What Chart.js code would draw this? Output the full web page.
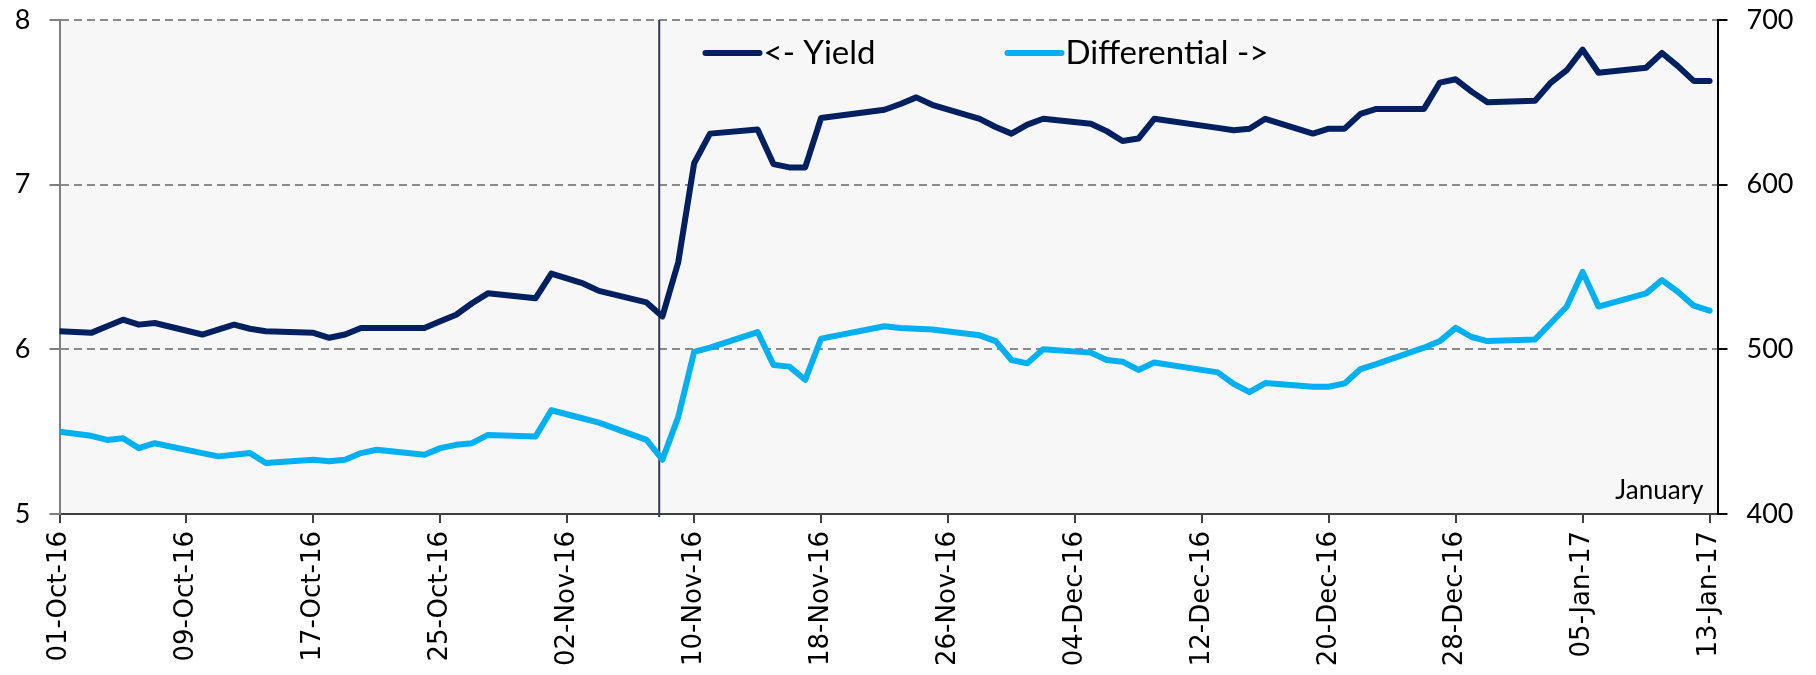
<!DOCTYPE html>
<html>
<head>
<meta charset="utf-8">
<script src="https://cdn.jsdelivr.net/npm/chart.js@4.4.1/dist/chart.umd.min.js"></script>
<style>
  html, body { margin: 0; padding: 0; background: #fff; }
  #wrap { width: 1816px; height: 675px; }
</style>
</head>
<body>
<div id="wrap"><canvas id="chart" width="1816" height="675"></canvas></div>
<script>
'use strict';

/* ── DATA ── */
var startDate = '2016-10-01';
var dates = [
  '2016-10-01','2016-10-03','2016-10-04','2016-10-05','2016-10-06','2016-10-07',
  '2016-10-10','2016-10-11','2016-10-12','2016-10-13','2016-10-14',
  '2016-10-17','2016-10-18','2016-10-19','2016-10-20','2016-10-21',
  '2016-10-24','2016-10-25','2016-10-26','2016-10-27','2016-10-28',
  '2016-10-31','2016-11-01','2016-11-03','2016-11-04',
  '2016-11-07','2016-11-08','2016-11-09','2016-11-10','2016-11-11',
  '2016-11-14','2016-11-15','2016-11-16','2016-11-17','2016-11-18',
  '2016-11-22','2016-11-23','2016-11-24','2016-11-25',
  '2016-11-28','2016-11-29','2016-11-30','2016-12-01','2016-12-02',
  '2016-12-05','2016-12-06','2016-12-07','2016-12-08','2016-12-09',
  '2016-12-13','2016-12-14','2016-12-15','2016-12-16',
  '2016-12-19','2016-12-20','2016-12-21','2016-12-22','2016-12-23',
  '2016-12-26','2016-12-27','2016-12-28','2016-12-29','2016-12-30',
  '2017-01-02','2017-01-03','2017-01-04','2017-01-05','2017-01-06',
  '2017-01-09','2017-01-10','2017-01-11','2017-01-12','2017-01-13'
];
var yieldVals = [
  6.11, 6.10, 6.14, 6.18, 6.15, 6.16,
  6.09, 6.12, 6.15, 6.125, 6.11,
  6.10, 6.07, 6.09, 6.13, 6.13,
  6.13, 6.17, 6.21, 6.28, 6.34,
  6.31, 6.46, 6.40, 6.355,
  6.285, 6.20, 6.53, 7.13, 7.31,
  7.335, 7.125, 7.105, 7.105, 7.405,
  7.455, 7.49, 7.53, 7.485,
  7.40, 7.35, 7.31, 7.365, 7.40,
  7.37, 7.325, 7.265, 7.28, 7.40,
  7.345, 7.33, 7.34, 7.40,
  7.31, 7.34, 7.34, 7.43, 7.46,
  7.46, 7.62, 7.64, 7.565, 7.50,
  7.51, 7.62, 7.695, 7.82, 7.68,
  7.71, 7.80, 7.72, 7.63, 7.63
];
var diffVals = [
  450, 447.5, 445, 446, 440, 443,
  437, 435, 436, 437, 431,
  433, 432, 433, 437, 439,
  436, 440, 442, 443, 448,
  447, 463, 458, 455.5,
  445, 433, 459, 498.5, 501,
  510.5, 490.5, 489.5, 481.5, 506.5,
  514, 513, 512.5, 512,
  508.5, 505, 493.5, 491.5, 500,
  498, 493.5, 492.5, 487.5, 492,
  486, 479, 474, 479.5,
  477.3, 477.3, 479.3, 488, 491,
  501, 505, 513, 507.5, 505,
  506, 516, 526, 547, 526,
  534, 542, 535, 526.5, 523.5
];
var seriesNames = ['<- Yield', 'Differential ->'];
var leftTicks  = [5, 6, 7, 8];
var rightTicks = [400, 500, 600, 700];
var tickEveryDays = 8;
var lastTickDay = 104;
var axisEndDay = 104.5;
var markerDay = 37.8;   /* linea vertical (08-Nov) */
var noteText = 'January';

var MONTHS = ['Jan','Feb','Mar','Apr','May','Jun','Jul','Aug','Sep','Oct','Nov','Dec'];
var DAY_MS = 86400000;

function toUTC(s){
  var p = s.split('-');
  return Date.UTC(+p[0], +p[1] - 1, +p[2]);
}
var t0 = toUTC(startDate);
function dayIndex(s){ return Math.round((toUTC(s) - t0) / DAY_MS); }
function fmtDay(v){
  var d = new Date(t0 + v * DAY_MS);
  var dd = ('0' + d.getUTCDate()).slice(-2);
  var yy = ('' + d.getUTCFullYear()).slice(-2);
  return dd + '-' + MONTHS[d.getUTCMonth()] + '-' + yy;
}

var yieldPts = dates.map(function(s, i){ return { x: dayIndex(s), y: yieldVals[i] }; });
var diffPts  = dates.map(function(s, i){ return { x: dayIndex(s), y: diffVals[i] }; });

var NAVY = '#002060';
var SKY  = '#00b0f0';

/* ── PLUGINS ── */
var plotBg = {
  id: 'plotBg',
  beforeDraw: function(c){
    var a = c.chartArea, ctx = c.ctx;
    ctx.save();
    ctx.fillStyle = '#f7f7f7';
    ctx.fillRect(a.left, a.top, a.right - a.left, a.bottom - a.top);
    ctx.restore();
  }
};

/* linea vertical del evento, desde el borde superior hasta un poco bajo el eje */
var markerLine = {
  id: 'markerLine',
  beforeDatasetsDraw: function(c){
    var x = c.scales.x.getPixelForValue(markerDay);
    var a = c.chartArea, ctx = c.ctx;
    ctx.save();
    ctx.strokeStyle = '#2e3a52';
    ctx.lineWidth = 2;
    ctx.beginPath();
    ctx.moveTo(x, a.top);
    ctx.lineTo(x, a.bottom + 3);
    ctx.stroke();
    ctx.restore();
  }
};

var insideLegend = {
  id: 'insideLegend',
  afterDraw: function(c){
    var ctx = c.ctx, a = c.chartArea;
    var items = [
      { x: a.left + 646, color: NAVY, text: seriesNames[0] },
      { x: a.left + 948, color: SKY,  text: seriesNames[1] }
    ];
    ctx.save();
    ctx.font = '33px Lato';
    ctx.textBaseline = 'alphabetic';
    ctx.textAlign = 'left';
    items.forEach(function(it){
      ctx.strokeStyle = it.color;
      ctx.lineWidth = 6;
      ctx.lineCap = 'round';
      ctx.beginPath();
      ctx.moveTo(it.x, a.top + 33);
      ctx.lineTo(it.x + 54, a.top + 33);
      ctx.stroke();
      ctx.fillStyle = '#000';
      ctx.fillText(it.text, it.x + 58, a.top + 44);
    });
    /* nota inferior derecha */
    ctx.font = '26px Lato';
    ctx.textAlign = 'right';
    ctx.fillText(noteText, a.right - 14, a.bottom - 15);
    ctx.restore();
  }
};

function fitV(w){
  return function(s){ s.width = w; s.paddingTop = 0; s.paddingBottom = 0; };
}

/* ── CHART ── */
new Chart(document.getElementById('chart'), {
  type: 'line',
  data: {
    datasets: [
      {
        label: seriesNames[1], data: diffPts, yAxisID: 'y2',
        borderColor: SKY, borderWidth: 6, pointRadius: 0,
        borderJoinStyle: 'round', borderCapStyle: 'round', tension: 0, order: 2
      },
      {
        label: seriesNames[0], data: yieldPts, yAxisID: 'y',
        borderColor: NAVY, borderWidth: 6, pointRadius: 0,
        borderJoinStyle: 'round', borderCapStyle: 'round', tension: 0, order: 1
      }
    ]
  },
  options: {
    responsive: false,
    animation: false,
    devicePixelRatio: 1,
    layout: { padding: { top: 20, left: 0, right: 0, bottom: 0 } },
    plugins: { legend: { display: false }, tooltip: { enabled: false } },
    scales: {
      x: {
        type: 'linear',
        min: 0, max: axisEndDay,
        afterFit: function(s){ s.height = 161; s.paddingLeft = 0; s.paddingRight = 0; },
        grid: { drawOnChartArea: false, drawTicks: true, tickLength: 9, tickColor: '#404040', lineWidth: 2 },
        border: { color: '#404040', width: 2 },
        ticks: {
          stepSize: tickEveryDays, includeBounds: false, autoSkip: false,
          maxRotation: 90, minRotation: 90, padding: 8,
          color: '#000', font: { family: 'DejaVu Sans', size: 26 },
          callback: function(v){ return (v % tickEveryDays === 0 && v <= lastTickDay) ? fmtDay(v) : ''; }
        }
      },
      y: {
        position: 'left',
        min: leftTicks[0], max: leftTicks[leftTicks.length - 1],
        afterFit: fitV(59.5),
        grid: { color: '#8a8a8a', lineWidth: 2, tickLength: 10, tickColor: '#7f7f7f', tickBorderDash: [] },
        border: { color: '#7f7f7f', width: 2, dash: [8, 5] },
        ticks: {
          stepSize: 1, padding: 19, color: '#000',
          font: { family: 'Lato', size: 27 }
        }
      },
      y2: {
        position: 'right',
        min: rightTicks[0], max: rightTicks[rightTicks.length - 1],
        afterFit: fitV(98.5),
        grid: { drawOnChartArea: false, tickLength: 10, tickColor: '#000', lineWidth: 2 },
        border: { color: '#000', width: 2 },
        ticks: {
          stepSize: 100, padding: 19, color: '#000',
          font: { family: 'Lato', size: 27 }
        }
      }
    }
  },
  plugins: [plotBg, markerLine, insideLegend]
});
</script>
</body>
</html>
